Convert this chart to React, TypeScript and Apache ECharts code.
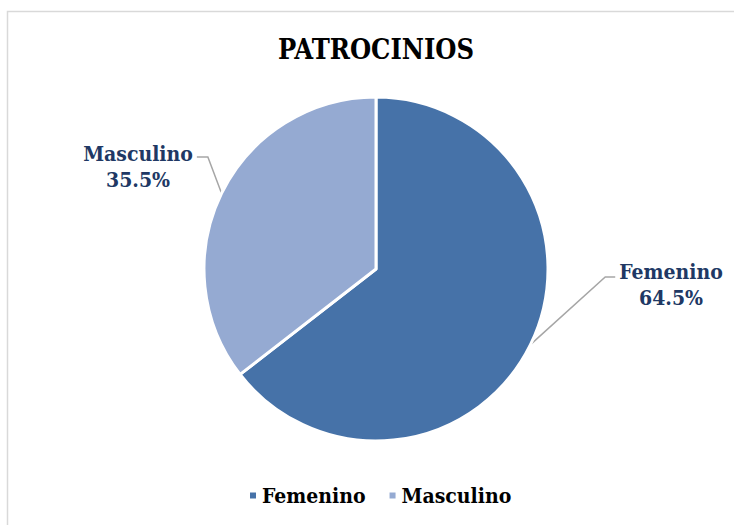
import React, { useEffect, useRef } from "react";
import * as echarts from "echarts";

const titleText = "PATROCINIOS";
const categories = ["Femenino", "Masculino"];
const values = [64.5, 35.5];
const sliceColors = ["#4672A8", "#95AAD2"];
// label placement (layout only): center x, center y, side
const labelPlacement = [
  { x: 671, y: 284, side: "right" },
  { x: 138, y: 166, side: "left" },
];

const SERIF = "DejaVu Serif Condensed";

export default function App() {
  const ref = useRef<HTMLDivElement>(null);
  useEffect(() => {
    document.body.style.margin = "0";
    const chart = echarts.init(ref.current!, null, { renderer: "svg" });
    const data = categories.map((name, i) => ({
      name,
      value: values[i],
      itemStyle: { color: sliceColors[i] },
    }));
    chart.setOption({
      animation: false,
      backgroundColor: "#ffffff",
      textStyle: { fontFamily: SERIF },
      title: {
        text: titleText,
        left: 278,
        top: 36,
        padding: 0,
        textStyle: {
          fontFamily: SERIF,
          fontSize: 27,
          fontWeight: "bold",
          color: "#000000",
        },
      },
      legend: {
        bottom: 14,
        left: 243,
        itemWidth: 8,
        itemHeight: 8,
        itemGap: 22,
        icon: "rect",
        textStyle: {
          fontFamily: SERIF,
          fontSize: 21,
          fontWeight: "bold",
          color: "#000000",
        },
        data: categories,
      },
      graphic: [
        {
          type: "rect",
          shape: { x: 7.5, y: 11.5, width: 900, height: 700 },
          style: { fill: "none", stroke: "#d9d9d9", lineWidth: 1.5 },
          silent: true,
        },
      ],
      series: [
        {
          type: "pie",
          center: [376, 269],
          radius: 172,
          startAngle: 90,
          clockwise: true,
          data,
          itemStyle: { borderColor: "#ffffff", borderWidth: 3 },
          label: {
            show: true,
            formatter: (p: any) => `${p.name}\n${p.value.toFixed(1)}%`,
            fontFamily: SERIF,
            fontSize: 21,
            fontWeight: "bold",
            color: "#203864",
            lineHeight: 26,
            align: "center",
          },
          labelLine: {
            show: true,
            length: 20,
            length2: 10,
            lineStyle: { color: "#a6a6a6", width: 1.5 },
          },
          labelLayout: (params: any) => {
            const pl = labelPlacement[params.dataIndex];
            const w = params.labelRect ? params.labelRect.width : 100;
            const h = params.labelRect ? params.labelRect.height : 52;
            const edge = params.labelLinePoints
              ? params.labelLinePoints[0]
              : [pl.x, pl.y];
            const lineY = pl.y - h / 2 + 19;
            let end: number[];
            let elbow: number[];
            if (pl.side === "right") {
              end = [pl.x - w / 2 - 4, lineY];
              elbow = [end[0] - 10, lineY];
            } else {
              end = [pl.x + w / 2 + 4, lineY - 2];
              elbow = [end[0] + 11, lineY - 2];
            }
            return {
              x: pl.x,
              y: pl.y,
              align: "center",
              verticalAlign: "middle",
              labelLinePoints: [edge, elbow, end],
            };
          },
        },
      ],
    });
    return () => chart.dispose();
  }, []);
  return <div ref={ref} style={{ width: 734, height: 525 }} />;
}
